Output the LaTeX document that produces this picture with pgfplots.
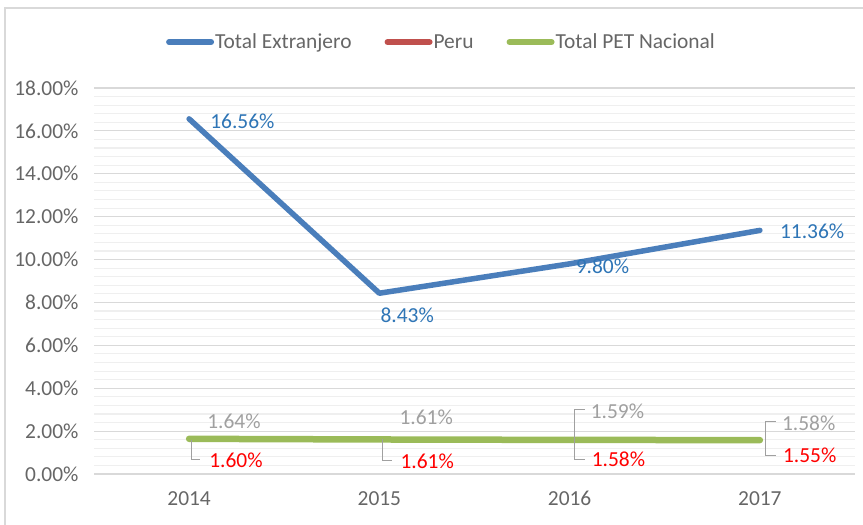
\documentclass[border=0pt]{standalone}
\usepackage{pgfplots}
\pgfplotsset{compat=1.18}
\usepackage{fontspec}
\setmainfont{Carlito}
\definecolor{cblue}{HTML}{4A7EBB}
\definecolor{cred}{HTML}{C0504D}
\definecolor{cgreen}{HTML}{9BBB59}
\definecolor{lblue}{HTML}{2E75B6}
\definecolor{lgray}{HTML}{A0A0A0}
\definecolor{tgray}{HTML}{666666}
\definecolor{majgrid}{HTML}{D9D9D9}
\definecolor{mingrid}{HTML}{EFEFEF}
\newcommand{\fs}{\fontsize{21.5}{25}\selectfont}
\begin{document}
\begin{tikzpicture}
\path[use as bounding box] (0,0) rectangle (863bp,525bp);
\draw[majgrid, line width=1.2bp] (5bp,0) -- (5bp,517bp) -- (863bp,517bp);
\begin{axis}[
  at={(94bp,51bp)}, anchor=south west,
  scale only axis, width=761bp, height=386bp,
  xmin=-0.5, xmax=3.5, ymin=0, ymax=18,
  xtick={0,1,2,3}, xticklabels={2014,2015,2016,2017},
  ytick={0,2,...,18}, minor y tick num=4,
  ymajorgrids, yminorgrids,
  major grid style={majgrid, line width=1.1bp},
  minor grid style={mingrid, line width=1.1bp},
  axis line style={draw=none},
  major tick style={draw=none}, minor tick style={draw=none},
  yticklabel style={xshift=-12bp, /pgf/number format/fixed, /pgf/number format/fixed zerofill, /pgf/number format/precision=2, /pgf/number format/assume math mode=true},
  yticklabel={\pgfmathprintnumber{\tick}\%},
  ticklabel style={font=\fs, text=tgray},
  xticklabel style={yshift=-14bp},
  clip=false,
  legend style={at={(0.456,1.119)}, anchor=center, draw=none, fill=none,
    legend columns=-1, font=\fs, text=tgray,
    nodes={inner sep=1bp},
    /tikz/every even column/.append style={column sep=32bp},
    inner sep=0pt},
  legend image code/.code={\draw[#1, line width=6bp, line cap=round] (0bp,0bp) -- (42bp,0bp);},
]
\addplot[cblue, line width=5.5bp, line join=round, line cap=round] coordinates {(0,16.56) (1,8.43) (2,9.80) (3,11.36)};
\addlegendentry{Total Extranjero}
\addplot[cred, line width=3bp, line join=round] coordinates {(0,1.60) (1,1.61) (2,1.58) (3,1.55)};
\addlegendentry{Peru}
\addplot[cgreen, line width=6.5bp, line join=round, line cap=round] coordinates {(0,1.64) (1,1.61) (2,1.59) (3,1.58)};
\addlegendentry{Total PET Nacional}

% Total Extranjero labels
\node[anchor=west, text=lblue, font=\fs, inner sep=0pt] at ([xshift=21bp,yshift=-2bp]axis cs:0,16.56) {16.56\%};
\node[anchor=north west, text=lblue, font=\fs, inner sep=0pt] at ([xshift=1bp,yshift=-14bp]axis cs:1,8.43) {8.43\%};
\node[anchor=west, text=lblue, font=\fs, inner sep=0pt] at ([xshift=6bp,yshift=-2bp]axis cs:2,9.80) {9.80\%};
\node[anchor=west, text=lblue, font=\fs, inner sep=0pt] at ([xshift=20bp,yshift=-1bp]axis cs:3,11.36) {11.36\%};

% PET labels
\node[anchor=west, text=lgray, font=\fs, inner sep=0pt] at ([xshift=18bp,yshift=18bp]axis cs:0,1.64) {1.64\%};
\node[anchor=west, text=lgray, font=\fs, inner sep=0pt] at ([xshift=20bp,yshift=22bp]axis cs:1,1.61) {1.61\%};
\node[anchor=west, text=lgray, font=\fs, inner sep=0pt] at ([xshift=21bp,yshift=29bp]axis cs:2,1.59) {1.59\%};
\node[anchor=west, text=lgray, font=\fs, inner sep=0pt] at ([xshift=22bp,yshift=17bp]axis cs:3,1.58) {1.58\%};

% Peru labels
\node[anchor=west, text=red, font=\fs, inner sep=0pt] at ([xshift=20bp,yshift=-21bp]axis cs:0,1.60) {1.60\%};
\node[anchor=west, text=red, font=\fs, inner sep=0pt] at ([xshift=21bp,yshift=-22bp]axis cs:1,1.61) {1.61\%};
\node[anchor=west, text=red, font=\fs, inner sep=0pt] at ([xshift=22bp,yshift=-19bp]axis cs:2,1.58) {1.58\%};
\node[anchor=west, text=red, font=\fs, inner sep=0pt] at ([xshift=23bp,yshift=-15bp]axis cs:3,1.55) {1.55\%};

% leader lines
\draw[lgray, line width=1bp] ([xshift=2bp]axis cs:0,1.60) -- ++(0bp,-20bp) -- ++(9bp,0bp);
\draw[lgray, line width=1bp] ([xshift=3bp]axis cs:1,1.61) -- ++(0bp,-21bp) -- ++(10bp,0bp);
\draw[lgray, line width=1bp] ([xshift=5bp,yshift=-19bp]axis cs:2,1.58) ++(10bp,0bp) -- ++(-10bp,0bp) -- ++(0bp,50bp) -- ++(10bp,0bp);
\draw[lgray, line width=1bp] ([xshift=6bp,yshift=-15bp]axis cs:3,1.55) ++(10bp,0bp) -- ++(-10bp,0bp) -- ++(0bp,34bp) -- ++(10bp,0bp);
\end{axis}
\end{tikzpicture}
\end{document}
